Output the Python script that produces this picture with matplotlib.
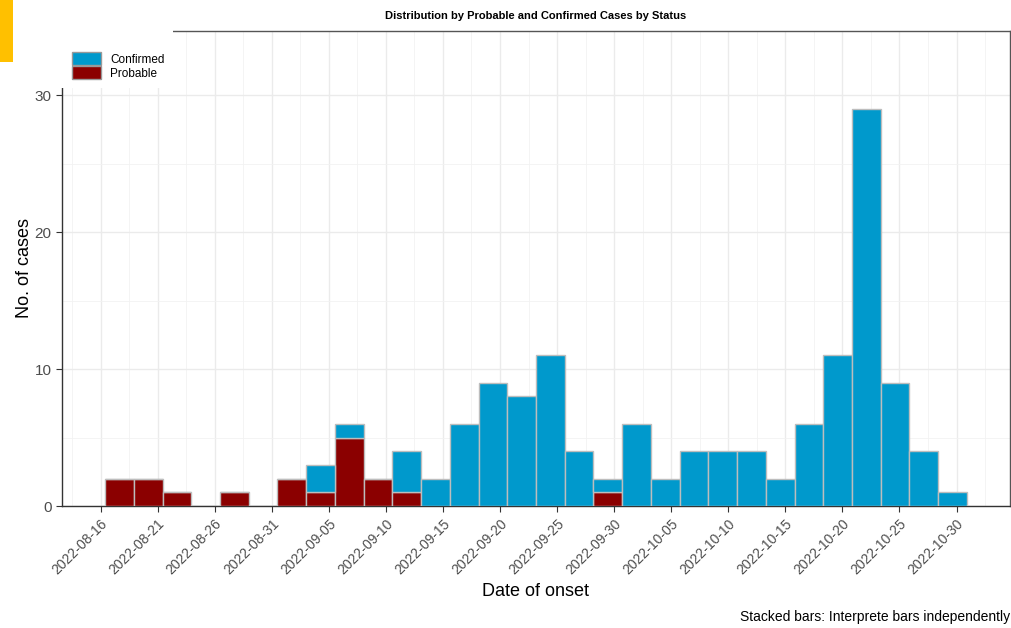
import numpy as np
import pandas as pd
import matplotlib
matplotlib.use("Agg")
import matplotlib.pyplot as plt
import matplotlib.dates as mdates
from matplotlib.patches import Rectangle, Patch

plt.rcParams["font.family"] = ["Liberation Sans", "DejaVu Sans"]

# histogram bins (30 bins, ~2.52 days wide)
bin_start = pd.Timestamp("2022-08-16") + pd.Timedelta(hours=9.6)
bin_width_days = 2.517
probable = [2, 2, 1, 0, 1, 0, 2, 1, 5, 2, 1, 0, 0, 0, 0,
            0, 0, 1, 0, 0, 0, 0, 0, 0, 0, 0, 0, 0, 0, 0]
confirmed = [0, 0, 0, 0, 0, 0, 0, 2, 1, 0, 3, 2, 6, 9, 8,
             11, 4, 1, 6, 2, 4, 4, 4, 2, 6, 11, 29, 9, 4, 1]
tick_dates = pd.date_range("2022-08-16", "2022-10-30", freq="5D")

blue = "#0099CC"
red = "#8B0000"
edge = "#BDBDBD"

lefts = [bin_start + pd.Timedelta(days=bin_width_days * i) for i in range(len(probable))]
lefts_num = mdates.date2num(lefts)
prob = np.array(probable)
conf = np.array(confirmed)

fig = plt.figure(figsize=(10.12, 6.28), dpi=100)
ax = fig.add_axes([62 / 1012, 1 - 506 / 628, (1010 - 62) / 1012, (506 - 31) / 628])

ax.bar(lefts_num, prob, width=bin_width_days, align="edge", color=red,
       edgecolor=edge, linewidth=1.0, zorder=3)
ax.bar(lefts_num, conf, width=bin_width_days, bottom=prob, align="edge", color=blue,
       edgecolor=edge, linewidth=1.0, zorder=3)

# x limits with 5% expansion like ggplot
x0 = lefts_num[0]
x1 = lefts_num[-1] + bin_width_days
pad = 0.05 * (x1 - x0)
ax.set_xlim(x0 - pad, x1 + pad)
ax.set_ylim(0, 34.7)

tick_num = mdates.date2num(tick_dates)
ax.set_xticks(tick_num)
ax.set_xticklabels([d.strftime("%Y-%m-%d") for d in tick_dates], rotation=45,
                   ha="right", rotation_mode="anchor", fontsize=10, color="#4D4D4D")
minor_x = tick_num[:-1] + 2.5
ax.set_xticks(np.concatenate([[tick_num[0] - 2.5], minor_x, [tick_num[-1] + 2.5]]), minor=True)
ax.set_yticks([0, 10, 20, 30])
ax.set_yticks([5, 15, 25], minor=True)
ax.tick_params(axis="y", labelsize=11, labelcolor="#4D4D4D")
ax.tick_params(axis="both", which="major", length=4, color="#333333")
ax.tick_params(axis="both", which="minor", length=0)

ax.grid(which="major", color="#EBEBEB", linewidth=1.0, zorder=0)
ax.grid(which="minor", color="#F2F2F2", linewidth=0.6, zorder=0)
ax.set_axisbelow(True)

for s in ax.spines.values():
    s.set_color("#333333")
    s.set_linewidth(1.0)
ax.spines["top"].set_color("#555555")
ax.spines["right"].set_color("#555555")

ax.set_xlabel("Date of onset", fontsize=13, labelpad=4)
ax.set_ylabel("No. of cases", fontsize=13, labelpad=1)

fig.text(536 / 1012, 1 - 16 / 628, "Distribution by Probable and Confirmed Cases by Status",
         ha="center", va="center", fontsize=8, fontweight="bold")
fig.text(1010 / 1012, 1 - 617 / 628, "Stacked bars: Interprete bars independently",
         ha="right", va="center", fontsize=10)

# white legend background covering the corner of the panel
fig.patches.append(Rectangle((0, 1 - 88 / 628), 173 / 1012, 88 / 628,
                             transform=fig.transFigure, facecolor="white",
                             edgecolor="none", zorder=2))
fig.patches.append(Rectangle((0, 1 - 62 / 628), 13 / 1012, 62 / 628,
                             transform=fig.transFigure, facecolor="#FFC000",
                             edgecolor="none", zorder=3))

handles = [Patch(facecolor=blue, edgecolor="#999999", linewidth=1.0, label="Confirmed"),
           Patch(facecolor=red, edgecolor="#999999", linewidth=1.0, label="Probable")]
fig.legend(handles=handles, loc="upper left", bbox_to_anchor=(64 / 1012, 1 - 44 / 628),
           frameon=False, fontsize=8.5, handlelength=2.4, handleheight=1.3,
           handletextpad=0.8, labelspacing=0.05, borderpad=0.2)

fig.savefig("out.png", dpi=100)
plt.close(fig)
